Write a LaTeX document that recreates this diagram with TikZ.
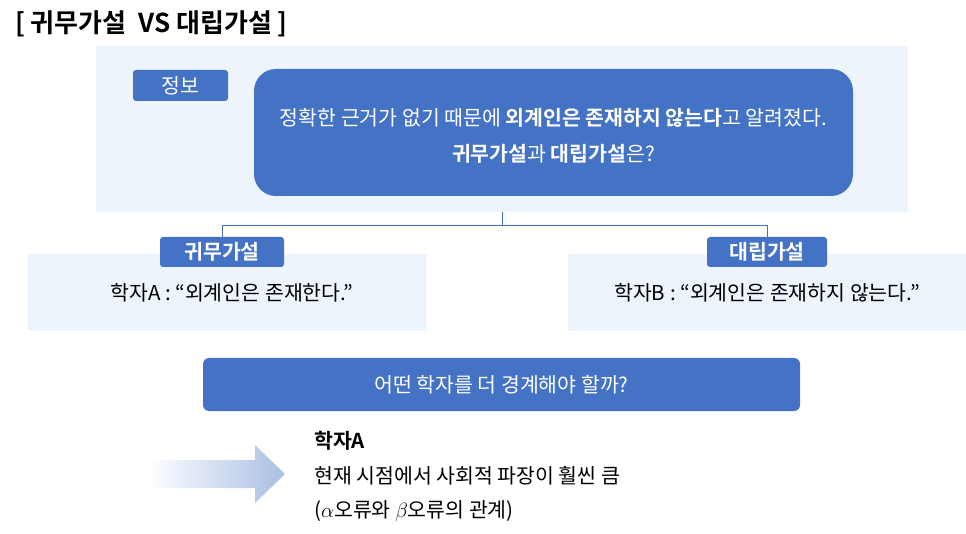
\documentclass[tikz,border=0pt]{standalone}
\usepackage{fontspec}
\setmainfont{Noto Sans CJK KR}[BoldFont={Noto Sans CJK KR Bold}]
\usepackage{tikz}
\usetikzlibrary{positioning}
\definecolor{bluefill}{HTML}{4472C4}
\definecolor{paleback}{HTML}{EDF4FB}
\definecolor{arrowend}{HTML}{A9BEE3}
\tikzset{
  panel/.style={fill=paleback, draw=none, inner sep=0pt},
  tagbox/.style={fill=bluefill, text=white, rounded corners=3pt, inner sep=0pt},
  bigbox/.style={fill=bluefill, text=white, rounded corners=22pt, inner sep=0pt},
  link/.style={draw=bluefill, line width=0.8pt},
  body/.style={font=\fontsize{20.5}{24}\selectfont},
  boldbody/.style={font=\fontsize{20.5}{24}\selectfont\bfseries}
}
\begin{document}
\begin{tikzpicture}[x=1pt,y=-1pt]
\useasboundingbox (0,0) rectangle (966,534);
\node[anchor=west, inner sep=0pt, font=\fontsize{26}{28}\selectfont\bfseries] (title) at (15,24) {[ 귀무가설\ \ VS 대립가설 ]};
% top panel
\node[panel, minimum width=812, minimum height=166] (top) at (502,129) {};
\node[tagbox, minimum width=95, minimum height=31, body] (info) at (180.5,85.5) {정보};
\node[bigbox, minimum width=599, minimum height=127] (fact) at (553.5,132.5) {};
\node[text=white, align=center, font=\fontsize{20.5}{36}\selectfont] (factText) at (553.5,136)
  {정확한 근거가 없기 때문에 \textbf{외계인은 존재하지 않는다}고 알려졌다.\\ \textbf{귀무가설}과 \textbf{대립가설}은?};
% two hypotheses
\node[panel, minimum width=399, minimum height=77] (paneA) at (227.5,292.5) {};
\node[panel, minimum width=398, minimum height=77] (paneB) at (767,292.5) {};
\node[tagbox, minimum width=124, minimum height=30, boldbody] (labA) at (222,252) {귀무가설};
\node[tagbox, minimum width=120, minimum height=30, boldbody] (labB) at (767,252) {대립가설};
\node[body] (sayA) at (232,293) {학자A : “외계인은 존재한다.”};
\node[body] (sayB) at (767,293) {학자B : “외계인은 존재하지 않는다.”};
\coordinate (split) at (502,225);
\draw[link] (top.south) -- (split);
\draw[link] (split) -| (labA.north);
\draw[link] (split) -| (labB.north);
% question
\node[tagbox, rounded corners=6pt, minimum width=597, minimum height=53, body] (ask) at (501.5,384.5) {어떤 학자를 더 경계해야 할까?};
% answer
\shade[left color=white, right color=arrowend] (147,460) -- (255,460) -- (255,445) -- (285,474) -- (255,503) -- (255,488) -- (147,488) -- cycle;
\node[anchor=west, inner sep=0pt, boldbody] (who) at (314,441) {학자A};
\node[anchor=west, inner sep=0pt, body] (why) at (314,476) {현재 시점에서 사회적 파장이 훨씬 큼};
\node[anchor=west, inner sep=0pt, body] (note) at (314,511) {($\alpha$오류와 $\beta$오류의 관계)};
\end{tikzpicture}
\end{document}
